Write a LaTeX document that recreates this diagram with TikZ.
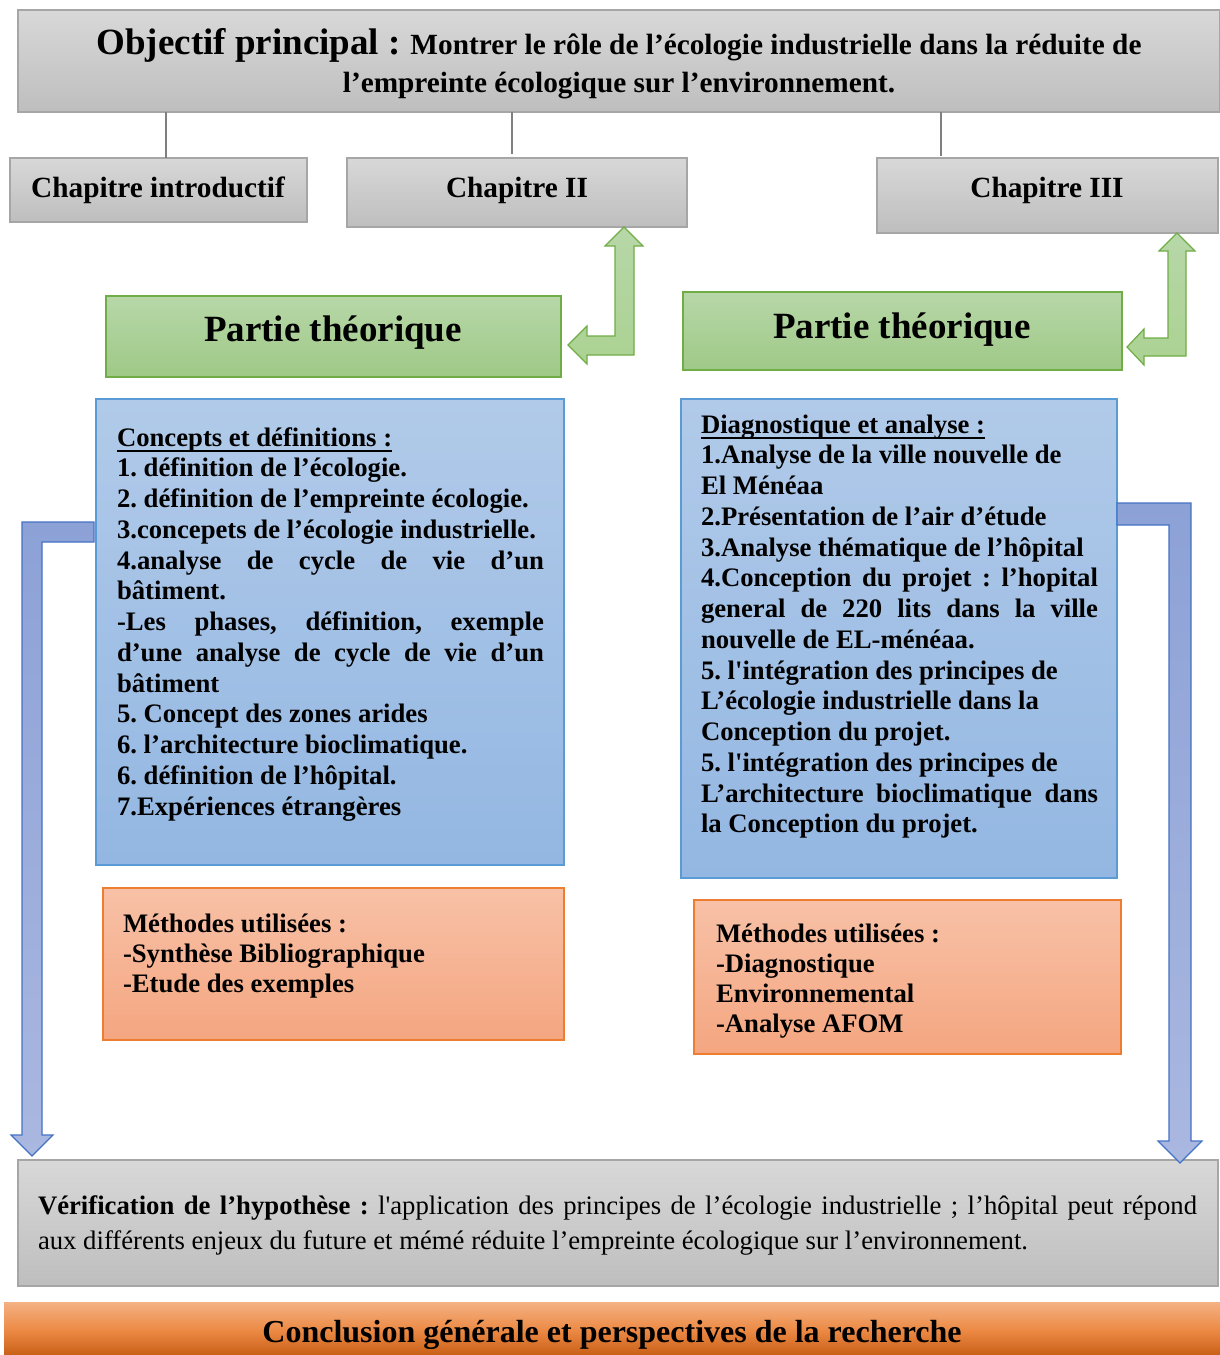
\documentclass[tikz,border=0pt]{standalone}
\usepackage{fontspec}
\setmainfont{Liberation Serif}[Ligatures=TeXOff]
\usetikzlibrary{calc}

\definecolor{grayT}{HTML}{D8D8D8}
\definecolor{grayB}{HTML}{BEBEBE}
\definecolor{grayE}{HTML}{A6A6A6}
\definecolor{greenT}{HTML}{B7D7A8}
\definecolor{greenB}{HTML}{9FC987}
\definecolor{greenE}{HTML}{70AD47}
\definecolor{greenA}{HTML}{ABD292}
\definecolor{blueT}{HTML}{B1CAE9}
\definecolor{blueB}{HTML}{93B7E2}
\definecolor{blueE}{HTML}{5B9BD5}
\definecolor{orT}{HTML}{F8C1A7}
\definecolor{orB}{HTML}{F4A680}
\definecolor{orE}{HTML}{ED7D31}
\definecolor{arT}{HTML}{8CA1D6}
\definecolor{arB}{HTML}{AAB8E0}
\definecolor{arE}{HTML}{4472C4}
\definecolor{cT}{HTML}{F4B183}
\definecolor{cM}{HTML}{EC8A45}
\definecolor{cB}{HTML}{C55A11}
\definecolor{lineG}{HTML}{7F7F7F}

\newcommand{\ulx}[1]{\setbox0=\hbox{#1}\rlap{\rule[-6pt]{\wd0}{1.8pt}}\box0}
\newcommand{\jl}[2]{\makebox[#1][s]{\spaceskip=0.25em plus 1fil\relax #2}}
\newcommand{\tsp}{\frenchspacing\spaceskip=0.25em plus 0.1em minus 0.05em\relax}

\begin{document}
\begin{tikzpicture}[x=1pt,y=-1pt,
  box/.style={draw, anchor=north west, inner sep=0pt, outer sep=0pt, line width=1.2pt},
  graybox/.style={box, draw=grayE, top color=grayT, bottom color=grayB},
  greenbox/.style={box, draw=greenE, top color=greenT, bottom color=greenB},
  bluebox/.style={box, draw=blueE, top color=blueT, bottom color=blueB},
  orbox/.style={box, draw=orE, top color=orT, bottom color=orB},
  conclbox/.style={box, draw=none, top color=cT, bottom color=cB, middle color=cM},
  conn/.style={draw=lineG, line width=2.5pt},
  garrow/.style={draw=greenE, line width=1.2pt, top color=greenT, bottom color=greenA, line join=miter},
  barrow/.style={draw=arE, line width=1.2pt, top color=arT, bottom color=arB, line join=miter},
  txt/.style={inner sep=0pt, outer sep=0pt, font=\bfseries\fontsize{26.7pt}{30.75pt}\selectfont},
  chaptxt/.style={inner sep=0pt, outer sep=0pt, anchor=base, font=\bfseries\fontsize{29.3pt}{35pt}\selectfont},
  partxt/.style={inner sep=0pt, outer sep=0pt, anchor=base, font=\bfseries\fontsize{37pt}{40pt}\selectfont},
]
\useasboundingbox (0,0) rectangle (1220,1355);

% boxes
\node[graybox, minimum width=1202pt, minimum height=102pt] (obj) at (18,10) {};
\node[graybox, minimum width=297pt, minimum height=64pt] (ci) at (10,158) {};
\node[graybox, minimum width=340pt, minimum height=69pt] (c2) at (347,158) {};
\node[graybox, minimum width=341pt, minimum height=75pt] (c3) at (877,158) {};
\node[greenbox, minimum width=455pt, minimum height=81pt] (p2) at (106,296) {};
\node[greenbox, minimum width=439pt, minimum height=78pt] (p3) at (683,292) {};
\node[bluebox, minimum width=468pt, minimum height=466pt] (b2) at (96,399) {};
\node[bluebox, minimum width=436pt, minimum height=479pt] (b3) at (681,399) {};
\node[orbox, minimum width=461pt, minimum height=152pt] (o2) at (103,888) {};
\node[orbox, minimum width=427pt, minimum height=154pt] (o3) at (694,900) {};
\node[graybox, minimum width=1200pt, minimum height=126pt] (ver) at (18,1160) {};
\node[conclbox, minimum width=1218pt, minimum height=56pt] (con) at (4,1302) {};

% connectors from objective to chapters
\coordinate (k1) at (166,0);
\coordinate (k2) at (512,0);
\coordinate (k3) at (941,0);
\draw[conn] (k1 |- obj.south) -- (k1 |- ci.north);
\draw[conn] (k2 |- obj.south) -- ([yshift=4pt]k2 |- c2.north);
\draw[conn] (k3 |- obj.south) -- ([yshift=2pt]k3 |- c3.north);

% green bent double arrows
\coordinate (ga) at ($(c2.south west)+(277,0)$);
\draw[garrow] (ga) -- ++(19,19) -- ++(-9,0) -- ++(0,109) -- ++(-47,0) -- ++(0,9)
  -- ++(-19,-19) -- ++(19,-19) -- ++(0,10) -- ++(28,0) -- ++(0,-90) -- ++(-10,0) -- cycle;
\coordinate (gb) at ($(c3.south west)+(300,0)$);
\draw[garrow] (gb) -- ++(18,18) -- ++(-9,0) -- ++(0,105) -- ++(-42,0) -- ++(0,9)
  -- ++(-17,-18) -- ++(17,-18) -- ++(0,9) -- ++(24,0) -- ++(0,-87) -- ++(-9,0) -- cycle;

% blue bent arrows
\coordinate (ba) at ($(b2.north west)+(-2,123)$);
\draw[barrow] (ba) -- ++(-72,0) -- ++(0,613) -- ++(-11,0) -- ++(21,21) -- ++(21,-21)
  -- ++(-11,0) -- ++(0,-593) -- ++(52,0) -- cycle;
\coordinate (bb) at ($(b3.north east)+(0,104)$);
\draw[barrow] (bb) -- ++(74,0) -- ++(0,638) -- ++(11,0) -- ++(-22,22) -- ++(-22,-22)
  -- ++(11,0) -- ++(0,-616) -- ++(-52,0) -- cycle;

% texts
\node[chaptxt] (tobj1) at (619,54) {{\fontsize{37pt}{40pt}\selectfont Objectif principal :} Montrer le rôle de l’écologie industrielle dans la réduite de};
\node[chaptxt] (tobj2) at (619,92) {l’empreinte écologique sur l’environnement.};

\node[chaptxt] (tci) at (158,197) {Chapitre introductif};
\node[chaptxt] (tc2) at (517,197) {Chapitre II};
\node[chaptxt] (tc3) at (1047,197) {Chapitre III};

\node[partxt] (tp2) at (333,341) {Partie théorique};
\node[partxt] (tp3) at (902,338) {Partie théorique};

\node[txt, text width=427pt, align=left, anchor=base west] (tb2) at (117,446) {\tsp
\ulx{Concepts et définitions :}\\
1. définition de l’écologie.\\
2. définition de l’empreinte écologie.\\
3.concepets de l’écologie industrielle.\\
\jl{427pt}{4.analyse de cycle de vie d’un}\\
bâtiment.\\
\jl{427pt}{-Les phases, définition, exemple}\\
\jl{427pt}{d’une analyse de cycle de vie d’un}\\
bâtiment\\
5. Concept des zones arides\\
6. l’architecture bioclimatique.\\
6. définition de l’hôpital.\\
7.Expériences étrangères};

\node[txt, text width=397pt, align=left, anchor=base west] (tb3) at (701,433) {\tsp
\ulx{Diagnostique et analyse :}\\
1.Analyse de la ville nouvelle de\\
El Ménéaa\\
2.Présentation de l’air d’étude\\
3.Analyse thématique de l’hôpital\\
\jl{397pt}{4.Conception du projet : l’hopital}\\
\jl{397pt}{general de 220 lits dans la ville}\\
nouvelle de EL-ménéaa.\\
5. l'intégration des principes de\\
L’écologie industrielle dans la\\
Conception du projet.\\
5. l'intégration des principes de\\
\jl{397pt}{L’architecture bioclimatique dans}\\
la Conception du projet.};

\node[txt, text width=420pt, align=left, anchor=base west, font=\bfseries\fontsize{26.7pt}{30pt}\selectfont] (to2) at (123,932) {\tsp
Méthodes utilisées :\\
-Synthèse Bibliographique\\
-Etude des exemples};

\node[txt, text width=390pt, align=left, anchor=base west, font=\bfseries\fontsize{26.7pt}{30.3pt}\selectfont] (to3) at (716,942) {\tsp
Méthodes utilisées :\\
-Diagnostique\\
Environnemental\\
-Analyse AFOM};

\node[inner sep=0pt, outer sep=0pt, text width=1159pt, align=left, anchor=base west, font=\mdseries\fontsize{26.7pt}{35pt}\selectfont] (tver) at (38,1214) {\tsp
\jl{1159pt}{\textbf{Vérification de l’hypothèse :} l'application des principes de l’écologie industrielle ; l’hôpital peut répond}\\
aux différents enjeux du future et mémé réduite l’empreinte écologique sur l’environnement.};

\node[inner sep=0pt, outer sep=0pt, anchor=base, font=\bfseries\fontsize{32pt}{36pt}\selectfont] (tcon) at (612,1342) {Conclusion générale et perspectives de la recherche};
\end{tikzpicture}
\end{document}
